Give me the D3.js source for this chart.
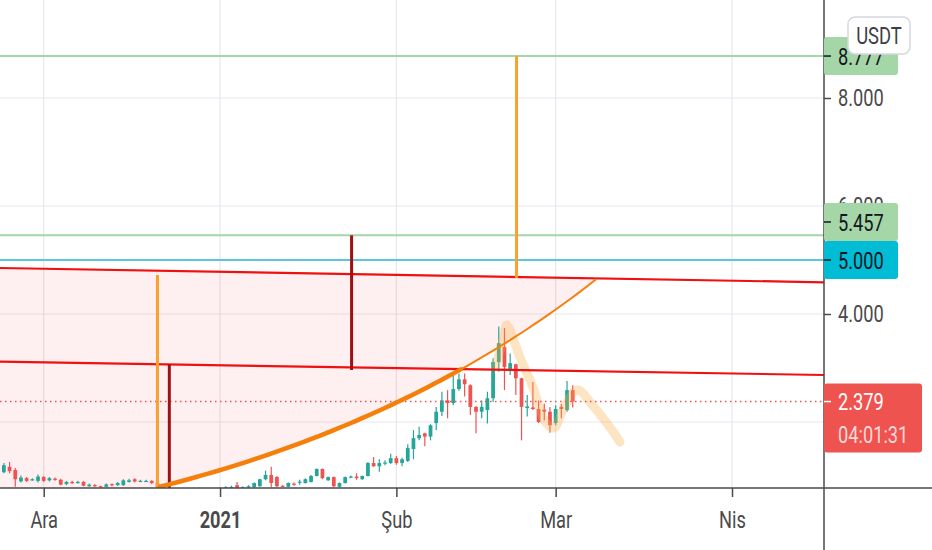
<!DOCTYPE html>
<html>
<head>
<meta charset="UTF-8">
<title>chart</title>
<style>
    body { margin: 0; background: #fff; }
    text { font-family: Roboto, "Noto Sans", sans-serif; }
</style>
</head>
<body>
<script src="https://cdn.jsdelivr.net/npm/d3@7"></script>
<script>
    // daily candles: date, open, high, low, close
    let candles = [
        ["2020-11-24",1.07,1.24,1.05,1.20],["2020-11-25",1.17,1.26,1.05,1.09],["2020-11-26",1.11,1.15,0.80,0.94],
        ["2020-11-27",0.90,1.01,0.88,0.97],["2020-11-28",0.96,0.98,0.89,0.91],["2020-11-29",0.93,0.96,0.91,0.94],
        ["2020-11-30",0.91,1.03,0.88,0.99],["2020-12-01",0.98,1.00,0.89,0.91],["2020-12-02",0.92,0.98,0.90,0.96],
        ["2020-12-03",0.95,0.97,0.91,0.93],["2020-12-04",0.93,0.95,0.83,0.84],["2020-12-05",0.85,0.91,0.83,0.89],
        ["2020-12-06",0.89,0.91,0.85,0.87],["2020-12-07",0.88,0.91,0.86,0.89],["2020-12-08",0.89,0.91,0.81,0.82],
        ["2020-12-09",0.81,0.86,0.80,0.84],["2020-12-10",0.83,0.85,0.80,0.81],["2020-12-11",0.81,0.82,0.79,0.80],
        ["2020-12-12",0.80,0.86,0.79,0.845],["2020-12-13",0.85,0.86,0.81,0.83],["2020-12-14",0.83,0.89,0.82,0.87],
        ["2020-12-15",0.83,0.94,0.82,0.92],["2020-12-16",0.89,0.95,0.88,0.92],["2020-12-17",0.94,0.96,0.88,0.90],
        ["2020-12-18",0.90,0.93,0.89,0.91],["2020-12-19",0.90,0.93,0.89,0.91],["2020-12-20",0.91,0.92,0.85,0.87],
        ["2020-12-21",0.87,0.89,0.76,0.80],["2020-12-22",0.80,0.81,0.72,0.76],["2020-12-23",0.76,0.78,0.62,0.66],
        ["2020-12-24",0.66,0.72,0.64,0.70],["2020-12-25",0.70,0.75,0.68,0.73],["2020-12-26",0.73,0.75,0.68,0.70],
        ["2020-12-27",0.70,0.74,0.65,0.67],["2020-12-28",0.67,0.74,0.66,0.72],["2020-12-29",0.72,0.77,0.70,0.75],
        ["2020-12-30",0.75,0.77,0.71,0.73],["2020-12-31",0.73,0.78,0.72,0.76],["2021-01-01",0.76,0.79,0.74,0.78],
        ["2021-01-02",0.77,0.81,0.76,0.795],["2021-01-03",0.78,0.82,0.76,0.80],["2021-01-04",0.83,0.89,0.77,0.78],
        ["2021-01-05",0.78,0.81,0.76,0.79],["2021-01-06",0.79,0.83,0.78,0.81],["2021-01-07",0.795,0.88,0.78,0.87],
        ["2021-01-08",0.81,0.95,0.80,0.94],["2021-01-09",0.94,1.10,0.92,1.02],["2021-01-10",1.02,1.17,0.79,0.87],
        ["2021-01-11",0.98,1.00,0.79,0.81],["2021-01-12",0.82,0.83,0.79,0.81],["2021-01-13",0.80,0.88,0.79,0.87],
        ["2021-01-14",0.86,0.88,0.82,0.84],["2021-01-15",0.88,0.93,0.84,0.895],["2021-01-16",0.87,0.96,0.86,0.94],
        ["2021-01-17",0.89,1.02,0.88,1.00],["2021-01-18",1.00,1.14,0.99,1.13],["2021-01-19",1.13,1.14,0.94,0.96],
        ["2021-01-20",0.92,0.99,0.91,0.98],["2021-01-21",0.98,0.99,0.79,0.81],["2021-01-22",0.80,0.88,0.79,0.87],
        ["2021-01-23",0.87,0.99,0.86,0.98],["2021-01-24",0.97,1.01,0.96,0.99],["2021-01-25",0.99,1.05,0.93,0.96],
        ["2021-01-26",0.94,1.01,0.93,1.00],["2021-01-27",1.00,1.26,0.99,1.24],["2021-01-28",1.24,1.35,1.17,1.18],
        ["2021-01-29",1.18,1.31,1.08,1.24],["2021-01-30",1.23,1.29,1.20,1.25],["2021-01-31",1.24,1.41,1.22,1.33],
        ["2021-02-01",1.33,1.37,1.21,1.24],["2021-02-02",1.24,1.34,1.18,1.31],["2021-02-03",1.28,1.59,1.26,1.52],
        ["2021-02-04",1.50,1.85,1.31,1.70],["2021-02-05",1.70,1.91,1.66,1.76],["2021-02-06",1.79,1.80,1.55,1.73],
        ["2021-02-07",1.73,1.96,1.66,1.94],["2021-02-08",1.98,2.28,1.85,2.19],["2021-02-09",2.19,2.56,2.11,2.40],
        ["2021-02-10",2.40,2.59,2.07,2.35],["2021-02-11",2.35,2.87,2.31,2.61],["2021-02-12",2.61,2.90,2.58,2.79],
        ["2021-02-13",2.79,2.90,2.47,2.70],["2021-02-14",2.68,2.70,2.13,2.28],["2021-02-15",2.28,2.29,1.79,2.19],
        ["2021-02-16",2.19,2.40,2.07,2.28],["2021-02-17",2.22,2.56,1.97,2.44],["2021-02-18",2.44,3.18,2.37,3.11],
        ["2021-02-19",3.11,3.77,2.93,3.46],["2021-02-20",3.39,3.74,2.59,3.02],["2021-02-21",2.96,3.27,2.87,3.09],
        ["2021-02-22",3.07,3.08,2.50,2.81],["2021-02-23",2.81,2.82,1.66,2.28],["2021-02-24",2.26,2.50,2.10,2.29],
        ["2021-02-25",2.27,2.74,2.22,2.24],["2021-02-26",2.24,2.40,1.98,2.00],["2021-02-27",2.23,2.34,2.03,2.19],
        ["2021-02-28",2.19,2.28,1.80,1.94],["2021-03-01",1.98,2.31,1.94,2.24],["2021-03-02",2.28,2.34,2.07,2.24],
        ["2021-03-03",2.22,2.76,2.19,2.59],["2021-03-04",2.59,2.68,2.27,2.379]
    ]

    let month_ticks = ["2020-12-01","2021-01-01","2021-02-01","2021-03-01","2021-04-01"]
    let month_labels = ["Ara","2021","Şub","Mar","Nis"]
    let price_ticks = [2, 4, 6, 8]

    let green_levels = [8.777, 5.457]
    let cyan_levels = [5.000]
    let last_price = 2.379
    let countdown = "04:01:31"
    let currency = "USDT"

    // drawings: [time, price]
    let upper_line = [["2020-11-20 00:00",4.858],["2021-04-20 00:00",4.582]]
    let lower_line = [["2020-11-20 00:00",3.122],["2021-04-20 00:00",2.866]]
    let curve_anchors = [["2020-12-21 10:00",0.80],["2021-02-04 10:00",2.006],["2021-03-08 04:00",4.648]]
    let orange_ranges = [["2020-12-21 00:00",0.60,4.722],["2021-02-22 03:00",4.67,8.777]]
    let darkred_ranges = [["2020-12-23 02:00",0.60,3.069],["2021-01-24 03:00",2.963,5.457]]
    let brush_path = [
        ["2021-02-18 10:00",3.02],["2021-02-19 20:00",3.55],["2021-02-20 10:00",3.796],
        ["2021-02-22 17:00",3.204],["2021-02-25 00:00",2.648],["2021-02-27 07:00",1.981],["2021-02-28 17:00",1.889],
        ["2021-03-02 07:00",2.222],["2021-03-04 19:00",2.593],["2021-03-07 14:00",2.296],["2021-03-10 12:00",1.907],
        ["2021-03-12 07:00",1.630]
    ]

    let parseDay = d3.utcParse("%Y-%m-%d")
    let parseTime = d3.utcParse("%Y-%m-%d %H:%M")

    let plot_w = 824, plot_h = 488
    let axis_color = "#4a4a4a"

    let x = d3.scaleUtc()
        .domain([parseDay("2020-12-01"), parseDay("2021-04-01")])
        .range([43.7, 732])
    let y = d3.scaleLinear().domain([2, 8]).range([422, 98])

    let day_w = x(parseDay("2021-01-02")) - x(parseDay("2021-01-01"))

    let svg = d3.select("body").append("svg")
        .attr("width", 932)
        .attr("height", 550)
        .style("display", "block")

    svg.append("defs").append("clipPath").attr("id", "plot")
        .append("rect").attr("width", plot_w).attr("height", plot_h)

    let plot = svg.append("g").attr("clip-path", "url(#plot)")

    // grid
    plot.selectAll(".vgrid").data(month_ticks).enter().append("line")
        .attr("x1", d => x(parseDay(d))).attr("x2", d => x(parseDay(d)))
        .attr("y1", 0).attr("y2", plot_h)
        .attr("stroke", "#e6e8ed").attr("stroke-width", 1.2)
    plot.selectAll(".hgrid").data(price_ticks).enter().append("line")
        .attr("x1", 0).attr("x2", plot_w)
        .attr("y1", d => y(d)).attr("y2", d => y(d))
        .attr("stroke", "#e6e8ed").attr("stroke-width", 1.2)

    function bezier(anchors, t0, t1, n) {
        let p = anchors.map(a => [parseTime(a[0]).getTime(), a[1]])
        let pts = []
        for (let i = 0; i <= n; i++) {
            let t = t0 + (t1 - t0) * i / n
            let a = (1 - t) * (1 - t), b = 2 * t * (1 - t), c = t * t
            pts.push([a * p[0][0] + b * p[1][0] + c * p[2][0], a * p[0][1] + b * p[1][1] + c * p[2][1]])
        }
        return pts
    }

    let line = d3.line().x(d => x(new Date(d[0]))).y(d => y(d[1]))
    let toPts = arr => arr.map(a => [parseTime(a[0]).getTime(), a[1]])

    // shaded zone between upper line and curve
    let curve_pts = bezier(curve_anchors, 0, 1, 60)
    let zone = [toPts(upper_line)[0], curve_pts[curve_pts.length - 1]]
        .concat(curve_pts.slice().reverse())
        .concat([[curve_pts[0][0], 0], [toPts(upper_line)[0][0], 0]])
    plot.append("path")
        .attr("d", line(zone) + "Z")
        .attr("fill", "rgba(242, 54, 69, 0.08)")

    // candles
    let bars = plot.selectAll(".candle").data(candles).enter().append("g")
        .attr("transform", d => "translate(" + x(parseDay(d[0])) + ",0)")
    let candle_color = d => d[4] >= d[1] ? "#26a69a" : "#ef5350"
    bars.append("line")
        .attr("y1", d => y(d[2])).attr("y2", d => y(d[3]))
        .attr("stroke", candle_color).attr("stroke-width", 1.2)
    bars.append("rect")
        .attr("x", -day_w * 0.33)
        .attr("width", day_w * 0.66)
        .attr("y", d => y(Math.max(d[1], d[4])))
        .attr("height", d => Math.max(1.2, Math.abs(y(d[1]) - y(d[4]))))
        .attr("fill", candle_color)

    // brush
    plot.append("path")
        .attr("d", d3.line().curve(d3.curveCatmullRom).x(d => x(new Date(d[0]))).y(d => y(d[1]))(toPts(brush_path)))
        .attr("fill", "none")
        .attr("stroke", "rgba(250, 175, 70, 0.32)")
        .attr("stroke-width", 9)
        .attr("stroke-linecap", "round")
        .attr("stroke-linejoin", "round")

    // horizontal levels
    plot.selectAll(".green").data(green_levels).enter().append("line")
        .attr("x1", 0).attr("x2", plot_w)
        .attr("y1", d => y(d)).attr("y2", d => y(d))
        .attr("stroke", "#a5d6a7").attr("stroke-width", 2)
    plot.selectAll(".cyan").data(cyan_levels).enter().append("line")
        .attr("x1", 0).attr("x2", plot_w)
        .attr("y1", d => y(d)).attr("y2", d => y(d))
        .attr("stroke", "#5ec6dc").attr("stroke-width", 2)

    // trend lines
    plot.selectAll(".trend").data([upper_line, lower_line]).enter().append("path")
        .attr("d", d => line(toPts(d)))
        .attr("stroke", "#f01010").attr("stroke-width", 2.2).attr("fill", "none")

    // last price
    plot.append("line")
        .attr("x1", 0).attr("x2", plot_w)
        .attr("y1", y(last_price)).attr("y2", y(last_price))
        .attr("stroke", "#ef5350").attr("stroke-width", 1.4)
        .attr("stroke-dasharray", "1.5,3.5")

    // price ranges
    plot.selectAll(".orange").data(orange_ranges).enter().append("line")
        .attr("x1", d => x(parseTime(d[0]))).attr("x2", d => x(parseTime(d[0])))
        .attr("y1", d => y(d[1])).attr("y2", d => y(d[2]))
        .attr("stroke", "#f9a130").attr("stroke-width", 3)
    plot.selectAll(".darkred").data(darkred_ranges).enter().append("line")
        .attr("x1", d => x(parseTime(d[0]))).attr("x2", d => x(parseTime(d[0])))
        .attr("y1", d => y(d[1])).attr("y2", d => y(d[2]))
        .attr("stroke", "#a01010").attr("stroke-width", 3)

    // curve
    plot.append("path")
        .attr("d", line(curve_pts))
        .attr("fill", "none").attr("stroke", "#f57f0a").attr("stroke-width", 2)
    plot.append("path")
        .attr("d", line(bezier(curve_anchors, 0, 0.65, 40)))
        .attr("fill", "none").attr("stroke", "#f57f0a").attr("stroke-width", 4.5)
        .attr("stroke-linecap", "round")

    // axes
    let sx = 0.76
    let bottom_axis = svg.append("g")
        .attr("transform", "translate(0," + plot_h + ")")
        .call(d3.axisBottom(x)
            .tickValues(month_ticks.map(parseDay))
            .tickFormat((d, i) => month_labels[i])
            .tickSize(9))
    bottom_axis.select(".domain").remove()
    bottom_axis.selectAll("line").attr("stroke", axis_color).attr("stroke-width", 1.5)
    bottom_axis.selectAll("text")
        .attr("y", 23)
        .attr("transform", "scale(" + sx + ",1)")
        .attr("font-size", 24)
        .attr("font-family", "Roboto")
        .attr("fill", axis_color)
        .attr("font-weight", (d, i) => month_labels[i] === "2021" ? "bold" : "normal")

    // the last-price tag covers the tick labels it sits on
    let tag_top = y(last_price) - 18, tag_bottom = tag_top + 69
    let right_axis = svg.append("g")
        .attr("transform", "translate(" + plot_w + ",0)")
        .call(d3.axisRight(y)
            .tickValues(price_ticks)
            .tickFormat(d3.format(".3f"))
            .tickSize(7))
    right_axis.select(".domain").remove()
    right_axis.selectAll("line").attr("stroke", axis_color).attr("stroke-width", 1.5)
    right_axis.selectAll("text")
        .attr("x", 14 / sx)
        .attr("transform", "scale(" + sx + ",1)")
        .attr("font-size", 24)
        .attr("font-family", "Roboto")
        .attr("fill", axis_color)
        .filter(d => y(d) > tag_top && y(d) < tag_bottom)
        .remove()

    svg.append("line")
        .attr("x1", 0).attr("x2", 932).attr("y1", plot_h).attr("y2", plot_h)
        .attr("stroke", axis_color).attr("stroke-width", 1.5)
    svg.append("line")
        .attr("x1", plot_w).attr("x2", plot_w).attr("y1", 0).attr("y2", 550)
        .attr("stroke", axis_color).attr("stroke-width", 1.5)

    // price labels, pushed apart when they overlap
    let box_h = 38
    let labels = green_levels.map(v => ({v: v, fill: "#a5d6a7"}))
        .concat(cyan_levels.map(v => ({v: v, fill: "#00bcd4"})))
        .sort((a, b) => a.v - b.v)
    labels.forEach((d, i) => {
        d.cy = y(d.v)
        if (i > 0 && labels[i - 1].cy - d.cy < box_h) d.cy = labels[i - 1].cy - box_h
    })
    let tags = svg.selectAll(".tag").data(labels).enter().append("g")
        .attr("transform", d => "translate(" + plot_w + "," + d.cy + ")")
    tags.append("rect")
        .attr("y", -box_h / 2).attr("width", 74).attr("height", box_h).attr("rx", 3)
        .attr("fill", d => d.fill)
    tags.append("line")
        .attr("x1", 0).attr("x2", 7).attr("stroke", "#131722").attr("stroke-width", 1.5)
    tags.append("text")
        .attr("x", 14 / sx).attr("dy", "0.36em")
        .attr("transform", "scale(" + sx + ",1)")
        .attr("font-size", 24).attr("fill", "#131722")
        .text(d => d3.format(".3f")(d.v))

    let last_tag = svg.append("g")
        .attr("transform", "translate(" + plot_w + "," + y(last_price) + ")")
    last_tag.append("rect")
        .attr("y", -18).attr("width", 98).attr("height", 69).attr("rx", 3)
        .attr("fill", "#ef5350")
    last_tag.append("line")
        .attr("x1", 0).attr("x2", 7).attr("stroke", "#fff").attr("stroke-width", 1.5)
    last_tag.append("text")
        .attr("x", 14 / sx).attr("dy", "0.36em")
        .attr("transform", "scale(" + sx + ",1)")
        .attr("font-size", 24).attr("fill", "#fff")
        .text(d3.format(".3f")(last_price))
    last_tag.append("text")
        .attr("x", 14 / sx).attr("y", 33).attr("dy", "0.36em")
        .attr("transform", "scale(" + sx + ",1)")
        .attr("font-size", 24).attr("fill", "rgba(255,255,255,0.78)")
        .text(countdown)

    // currency button
    let btn = svg.append("g").attr("transform", "translate(848,17)")
    btn.append("rect")
        .attr("width", 62).attr("height", 37).attr("rx", 7)
        .attr("fill", "#fff").attr("stroke", "#d6d8de").attr("stroke-width", 1.5)
    btn.append("text")
        .attr("transform", "translate(31,27) scale(0.8,1)")
        .attr("text-anchor", "middle")
        .attr("font-size", 23).attr("fill", "#3c3f47")
        .text(currency)
</script>
</body>
</html>
